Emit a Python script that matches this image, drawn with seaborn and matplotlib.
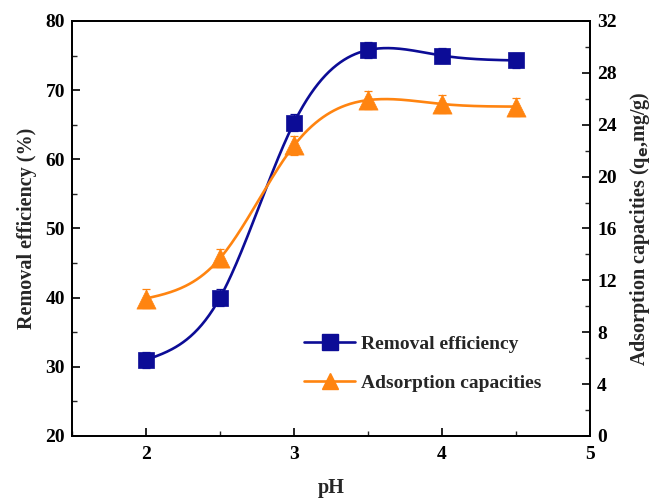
import numpy as np
import pandas as pd
import matplotlib
matplotlib.use("Agg")
import matplotlib.pyplot as plt
import seaborn as sns
from matplotlib.ticker import MultipleLocator
from matplotlib.lines import Line2D

ph = [2.0, 2.5, 3.0, 3.5, 4.0, 4.5]
removal = [31.0, 40.0, 65.3, 75.8, 75.0, 74.3]
removal_err = [1.2, 1.2, 1.2, 1.1, 1.1, 1.1]
capacity = [10.6, 13.7, 22.4, 25.9, 25.6, 25.4]
capacity_err = [0.7, 0.7, 0.7, 0.7, 0.7, 0.7]

BLUE = "#0c0c96"
ORANGE = "#ff8410"


def natural_spline(x, y, n=300):
    x = np.asarray(x, float)
    y = np.asarray(y, float)
    k = len(x)
    h = np.diff(x)
    A = np.zeros((k, k))
    b = np.zeros(k)
    A[0, 0] = A[-1, -1] = 1.0
    for i in range(1, k - 1):
        A[i, i - 1] = h[i - 1]
        A[i, i] = 2 * (h[i - 1] + h[i])
        A[i, i + 1] = h[i]
        b[i] = 6 * ((y[i + 1] - y[i]) / h[i] - (y[i] - y[i - 1]) / h[i - 1])
    m = np.linalg.solve(A, b)
    xs = np.linspace(x[0], x[-1], n)
    idx = np.clip(np.searchsorted(x, xs) - 1, 0, k - 2)
    x0, x1 = x[idx], x[idx + 1]
    hh = x1 - x0
    t0, t1 = x1 - xs, xs - x0
    ys = (m[idx] * t0 ** 3 + m[idx + 1] * t1 ** 3) / (6 * hh) \
        + (y[idx] / hh - m[idx] * hh / 6) * t0 \
        + (y[idx + 1] / hh - m[idx + 1] * hh / 6) * t1
    return xs, ys


sns.set_theme(style="ticks")
plt.rcParams["font.family"] = ["Liberation Serif", "DejaVu Serif"]
plt.rcParams["font.weight"] = "bold"
plt.rcParams["axes.labelweight"] = "bold"

fig = plt.figure(figsize=(6.51, 5.0), dpi=100)
ax = fig.add_axes([0.1106, 0.128, 0.7957, 0.830])
ax2 = ax.twinx()

# removal efficiency on left axis
xs, ys = natural_spline(ph, removal)
sns.lineplot(x=xs, y=ys, ax=ax, color=BLUE, lw=1.9, zorder=3)
ax.errorbar(ph, removal, yerr=removal_err, fmt="none", ecolor=BLUE,
            elinewidth=0.9, capsize=3, capthick=0.9, zorder=4)
sns.scatterplot(x=ph, y=removal, ax=ax, marker="s", s=140, color=BLUE,
                edgecolor=BLUE, linewidth=0.5, zorder=5)

# adsorption capacity on right axis
xs2, ys2 = natural_spline(ph, capacity)
sns.lineplot(x=xs2, y=ys2, ax=ax2, color=ORANGE, lw=1.9, zorder=3)
ax2.errorbar(ph, capacity, yerr=capacity_err, fmt="none", ecolor=ORANGE,
             elinewidth=0.9, capsize=3, capthick=0.9, zorder=4)
sns.scatterplot(x=ph, y=capacity, ax=ax2, marker="^", s=190, color=ORANGE,
                edgecolor=ORANGE, linewidth=0.5, zorder=5)

ax.set_xlim(1.5, 5.0)
ax.set_ylim(20, 80)
ax2.set_ylim(0, 32)
ax.xaxis.set_major_locator(MultipleLocator(1))
ax.xaxis.set_minor_locator(MultipleLocator(0.5))
ax.yaxis.set_major_locator(MultipleLocator(10))
ax.yaxis.set_minor_locator(MultipleLocator(5))
ax2.yaxis.set_major_locator(MultipleLocator(4))
ax2.yaxis.set_minor_locator(MultipleLocator(2))

for a in (ax, ax2):
    for s in a.spines.values():
        s.set_linewidth(1.3)
        s.set_color("black")
    a.tick_params(which="major", direction="in", length=6, width=1.2,
                  labelsize=14, colors="black")
    a.tick_params(which="minor", direction="in", length=3.5, width=1.0)
    for lab in a.get_xticklabels() + a.get_yticklabels():
        lab.set_fontweight("bold")
ax.tick_params(axis="x", pad=7)
ax.tick_params(axis="y", pad=5)
ax2.tick_params(axis="y", pad=5)
ax.set_xticks([2, 3, 4, 5])
ax.set_xticklabels(["2", "3", "4", "5"], fontweight="bold")

ax.set_xlabel("pH", fontsize=14.5, fontweight="bold", labelpad=11)
ax.set_ylabel("Removal efficiency (%)", fontsize=14.5, fontweight="bold", labelpad=6)
ax2.set_ylabel(r"Adsorption capacities (q$_\mathbf{e}$,mg/g)", fontsize=14.5,
               fontweight="bold", labelpad=8)

handles = [
    Line2D([], [], color=BLUE, lw=1.9, marker="s", markersize=11),
    Line2D([], [], color=ORANGE, lw=1.9, marker="^", markersize=12),
]
leg = ax.legend(handles, ["Removal efficiency", "Adsorption capacities"],
                loc="upper left", bbox_to_anchor=(0.415, 0.285), frameon=False,
                prop={"family": "Liberation Serif", "weight": "bold", "size": 14},
                handlelength=2.6, labelspacing=1.1, handletextpad=0.3)

fig.savefig("out.png", dpi=100)
